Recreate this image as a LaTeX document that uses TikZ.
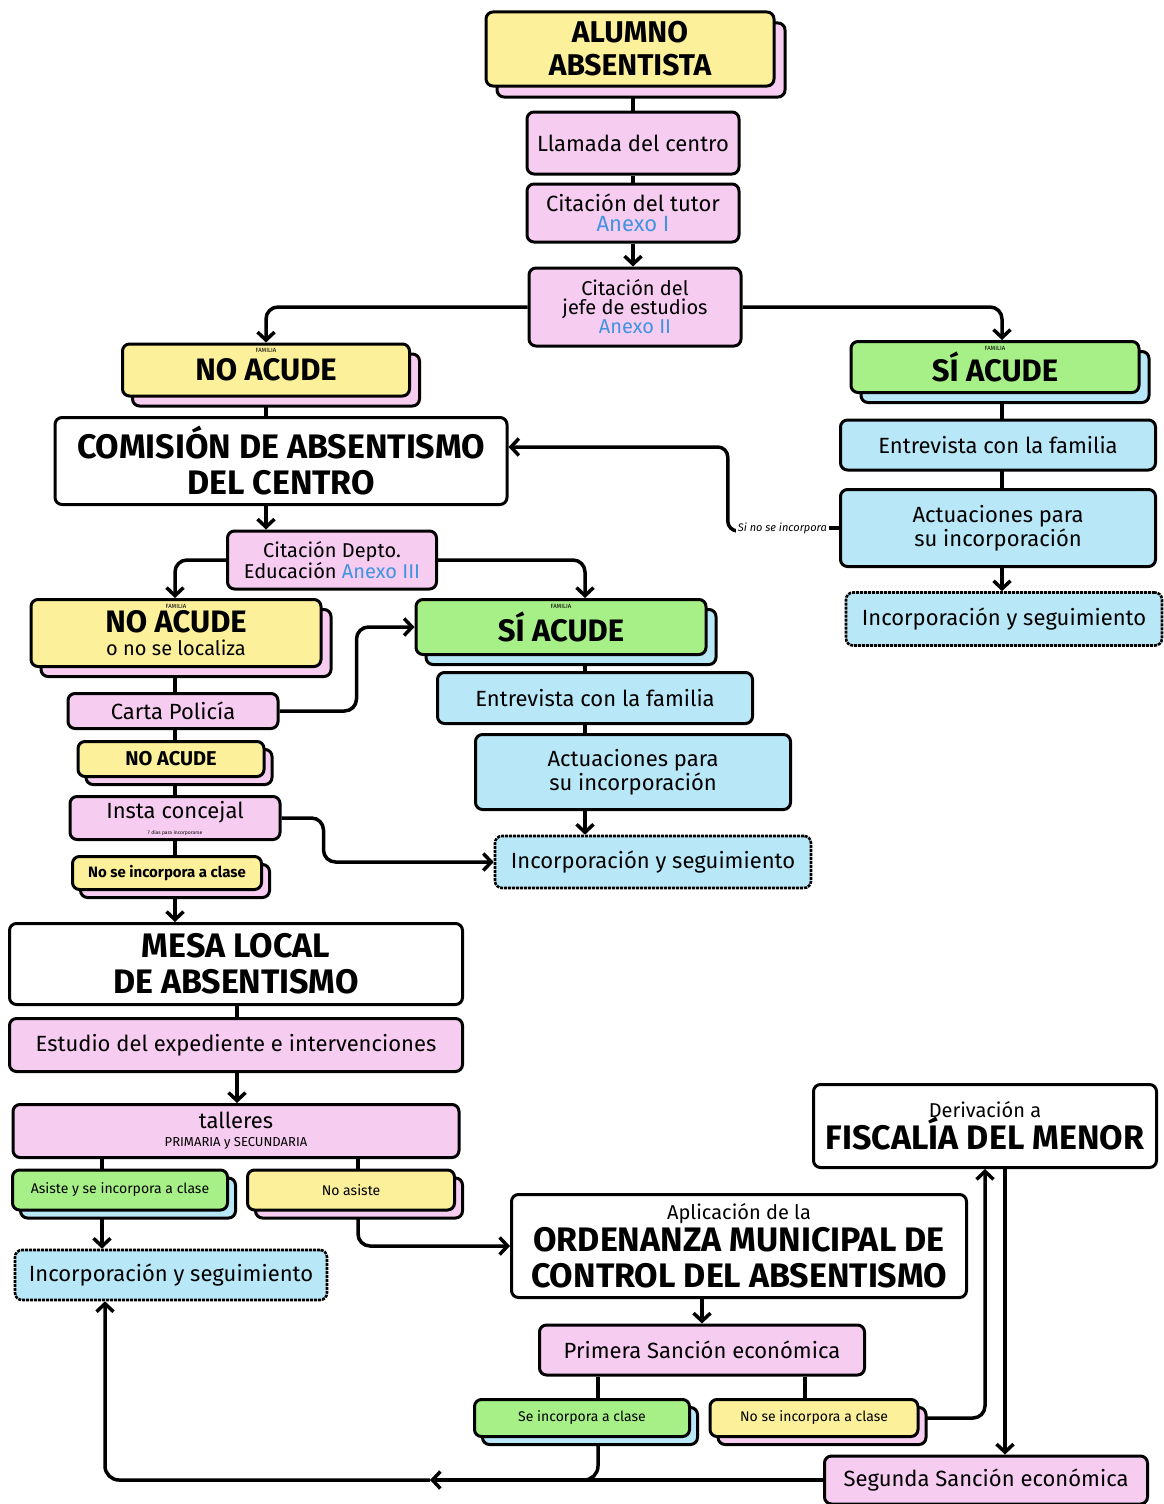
\documentclass[tikz,border=0pt]{standalone}
\usepackage{fontspec}
\setmainfont{Fira Sans}
\usepackage{xcolor}
\usepackage{tikz}
\usetikzlibrary{arrows.meta}
\usetikzlibrary{shadows}
\definecolor{boxY}{HTML}{FCF09B}
\definecolor{boxP}{HTML}{F6CCF0}
\definecolor{boxG}{HTML}{A6F087}
\definecolor{boxB}{HTML}{B8E8F8}
\definecolor{anexo}{HTML}{4094E0}
\pgfdeclarelayer{bg}
\pgfsetlayers{bg,main}

\begin{document}
\begin{tikzpicture}[x=1pt,y=-1pt,
    box/.style={draw=black,line width=3pt,rounded corners=7pt,align=center,inner sep=2pt},
    wbox/.style={box,fill=white},
    pbox/.style={box,fill=boxP},
    bbox/.style={box,fill=boxB},
    ibox/.style={box,fill=boxB,densely dotted,line width=2.6pt},
    ybox/.style={box,fill=boxY,copy shadow={fill=boxP,draw=black,line width=3pt,shadow xshift=#1,shadow yshift=-#1}},
    ybox/.default=10pt,
    gbox/.style={box,fill=boxG,copy shadow={fill=boxB,draw=black,line width=3pt,shadow xshift=#1,shadow yshift=-#1}},
    gbox/.default=10pt,
    sz/.style 2 args={minimum width=#1,minimum height=#2},
    big/.style={font=\fontsize{34}{36}\selectfont\bfseries},
    mid/.style={font=\fontsize{22}{24}\selectfont},
    sml/.style={font=\fontsize{14}{16}\selectfont},
    fam/.style={font=\fontsize{6}{6}\selectfont,anchor=north,inner sep=1pt,yshift=-5pt},
    lbl/.style={font=\fontsize{11}{11}\selectfont\itshape,fill=white,inner sep=2pt},
    con/.style={line width=3.5pt},
    arr/.style={con,-{Straight Barb[length=8pt,width=17pt]}},
  ]
    \useasboundingbox (0,0) rectangle (1164,1504);

    % columns for the vertical connectors
    \coordinate (col1) at (175,0);
    \coordinate (col2) at (585,0);
    \coordinate (col3) at (1002,0);
    \coordinate (col4) at (237,0);
    \coordinate (col5) at (102,0);
    \coordinate (col6) at (358,0);
    \coordinate (col7) at (598,0);
    \coordinate (col8) at (805,0);
    \coordinate (col9) at (1005,0);
    \coordinate (back) at (430,1480);

    % top chain
    \node[ybox=11pt,sz={288}{74},font=\fontsize{30}{33}\selectfont\bfseries] (alumno) at (630,49) {ALUMNO\\ABSENTISTA};
    \node[pbox,sz={212}{62},mid] (llamada) at (633,143) {Llamada del centro};
    \node[pbox,sz={212}{58},mid] (tutor) at (633,213) {Citación del tutor\\[-4pt]\textcolor{anexo}{Anexo I}};
    \node[pbox,sz={212}{78},font=\fontsize{20}{22}\selectfont] (jefe) at (635,307) {Citación del\\[-3pt]jefe de estudios\\[-3pt]\textcolor{anexo}{Anexo II}};

    % left branch
    \node[ybox,sz={287}{52},font=\fontsize{31}{31}\selectfont\bfseries,label={[fam]north:FAMILIA}] (noacude1) at (266,370) {NO ACUDE};
    \node[wbox,sz={452}{87},big] (comision) at (281,461) {COMISIÓN DE ABSENTISMO\\DEL CENTRO};
    \node[pbox,sz={209}{58},font=\fontsize{20}{21}\selectfont] (depto) at (332,560) {Citación Depto.\\Educación \textcolor{anexo}{Anexo III}};
    \node[ybox,sz={290}{67},font=\fontsize{31}{31}\selectfont\bfseries,label={[fam]north:FAMILIA}] (noacude2) at (176,633) {NO ACUDE\\[-8pt]{\fontsize{20}{20}\selectfont\mdseries o no se localiza}};
    \node[pbox,sz={210}{35},mid] (carta) at (173,711) {Carta Policía};
    \node[ybox=8pt,sz={186}{35},font=\fontsize{20}{20}\selectfont\bfseries] (noacude3) at (171,759) {NO ACUDE};
    \node[pbox,sz={210}{43},mid] (insta) at (175,818) {Insta concejal\\[-8pt]{\fontsize{5}{5}\selectfont 7 días para incorporarse}};
    \node[ybox=8pt,sz={189}{33},font=\fontsize{15}{16}\selectfont\bfseries] (noinc1) at (167,873) {No se incorpora a clase};

    % middle branch
    \node[gbox,sz={290}{55},font=\fontsize{31}{31}\selectfont\bfseries,label={[fam]north:FAMILIA}] (siacude2) at (561,627) {SÍ ACUDE};
    \node[bbox,sz={315}{51},mid] (entrev2) at (595,698) {Entrevista con la familia};
    \node[bbox,sz={315}{75},mid] (actua2) at (633,772) {Actuaciones para\\su incorporación};
    \node[ibox,sz={316}{52},mid] (incorp2) at (653,862) {Incorporación y seguimiento};

    % right branch
    \node[gbox,sz={288}{51},font=\fontsize{31}{31}\selectfont\bfseries,label={[fam]north:FAMILIA}] (siacude1) at (995,367) {SÍ ACUDE};
    \node[bbox,sz={315}{50},mid] (entrev1) at (998,445) {Entrevista con la familia};
    \node[bbox,sz={315}{77},mid] (actua1) at (998,528) {Actuaciones para\\su incorporación};
    \node[ibox,sz={316}{53},mid] (incorp1) at (1004,619) {Incorporación y seguimiento};
    \node[lbl,anchor=east] (sino) at ([xshift=-10pt]actua1.west) {Si no se incorpora};

    % mesa local
    \node[wbox,sz={453}{81},big] (mesa) at (236,964) {MESA LOCAL\\DE ABSENTISMO};
    \node[pbox,sz={453}{53},mid] (estudio) at (236,1045) {Estudio del expediente e intervenciones};
    \node[pbox,sz={446}{53},mid] (talleres) at (236,1131) {talleres\\[-6pt]{\fontsize{13}{13}\selectfont PRIMARIA y SECUNDARIA}};
    \node[gbox=8pt,sz={215}{40},sml] (asiste) at (120,1190) {Asiste y se incorpora a clase};
    \node[ybox=8pt,sz={207}{40},sml] (noasiste) at (351,1190) {No asiste};
    \node[ibox,sz={312}{50},mid] (incorp3) at (171,1275) {Incorporación y seguimiento};

    % ordenanza
    \node[wbox,sz={455}{103},big] (ordenanza) at (739,1246) {{\fontsize{20}{20}\selectfont\mdseries Aplicación de la}\\[-4pt]ORDENANZA MUNICIPAL DE\\CONTROL DEL ABSENTISMO};
    \node[pbox,sz={325}{50},mid] (primera) at (702,1350) {Primera Sanción económica};
    \node[gbox=8pt,sz={215}{37},sml] (seinc) at (582,1418) {Se incorpora a clase};
    \node[ybox=8pt,sz={208}{37},sml] (noinc2) at (814,1418) {No se incorpora a clase};
    \node[wbox,sz={343}{83},big] (fiscalia) at (985,1126) {{\fontsize{20}{20}\selectfont\mdseries Derivación a}\\[-4pt]FISCALÍA DEL MENOR};
    \node[pbox,sz={323}{48},mid] (segunda) at (986,1480) {Segunda Sanción económica};

    % connectors
    \begin{pgfonlayer}{bg}
    \draw[con] (alumno.south -| llamada.north) -- (llamada.north);
    \draw[con] (llamada) -- (tutor);
    \draw[arr] (tutor.south) -- (jefe.north -| tutor.south);
    \draw[arr,rounded corners=12pt] (jefe.west) -| (noacude1.north);
    \draw[arr,rounded corners=12pt] (jefe.east) -| (siacude1.north -| col3);

    \draw[con] (noacude1) -- (noacude1 |- comision.north);
    \draw[arr] (comision.south -| noacude1) -- (depto.north -| noacude1);
    \draw[arr,rounded corners=12pt] (depto.west) -| (noacude2.north -| col1);
    \draw[arr,rounded corners=12pt] (depto.east) -| (siacude2.north -| col2);
    \draw[con] (noacude2.south -| col1) -- (noinc1.north -| col1);
    \draw[arr] (noinc1.south -| col1) -- (mesa.north -| col1);
    \draw[arr,rounded corners=12pt] (carta.east) -- ++(77,0) |- (siacude2.west);
    \draw[arr,rounded corners=12pt] (insta.east) -- ++(42,0) |- (incorp2.west);

    \draw[con] (siacude2.south -| col2) -- (actua2.north -| col2);
    \draw[arr] (actua2.south -| col2) -- (incorp2.north -| col2);

    \draw[con] (siacude1.south -| col3) -- (actua1.north -| col3);
    \draw[arr] (actua1.south -| col3) -- (incorp1.north -| col3);
    \draw[con] (actua1.west) -- (sino.east);
    \draw[arr,rounded corners=10pt] ([yshift=-3pt]sino.west) -- ++(-8,0) |- ([yshift=14pt]comision.east);

    \draw[con] (mesa.south -| col4) -- (estudio.north -| col4);
    \draw[arr] (estudio.south -| col4) -- (talleres.north -| col4);
    \draw[con] (talleres.south -| col5) -- (asiste.north -| col5);
    \draw[arr] (asiste.south -| col5) -- (incorp3.north -| col5);
    \draw[con] (talleres.south -| col6) -- (noasiste.north -| col6);
    \draw[arr,rounded corners=12pt] (noasiste.south -| col6) |- (ordenanza.west);

    \draw[arr] (ordenanza.south -| primera) -- (primera.north);
    \draw[con] (primera.south -| col7) -- (seinc.north -| col7);
    \draw[con] (primera.south -| col8) -- (noinc2.north -| col8);
    \draw[arr,rounded corners=12pt] (noinc2.east) -| (fiscalia.south);
    \draw[arr] (fiscalia.south -| col9) -- (segunda.north -| col9);
    \draw[arr] (segunda.west) -- (back);
    \draw[arr,rounded corners=14pt] (back) -| ([xshift=-66pt]incorp3.south);
    \draw[con,rounded corners=14pt] (seinc.south -| col7) |- ([xshift=-40pt]seinc.south |- segunda.west);
    \end{pgfonlayer}
\end{tikzpicture}
\end{document}
